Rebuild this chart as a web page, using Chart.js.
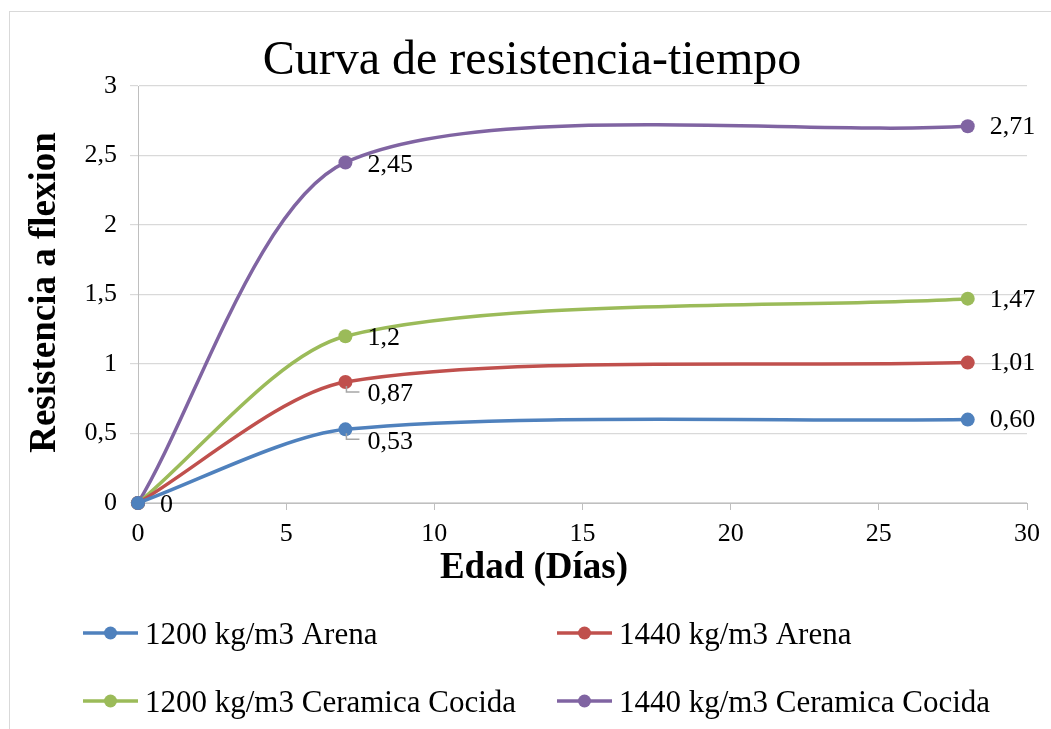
<!DOCTYPE html>
<html>
<head>
<meta charset="utf-8">
<script src="https://cdn.jsdelivr.net/npm/chart.js@4/dist/chart.umd.min.js"></script>
<style>
  html, body { margin: 0; padding: 0; background: #fff; overflow: hidden; }
  #wrap { position: relative; width: 1051px; height: 729px; }
  #frame { position: absolute; left: 9px; top: 11px; width: 1100px; height: 800px; border: 1px solid #d9d9d9; box-sizing: border-box; }
  canvas { position: absolute; left: 0; top: 0; }
</style>
</head>
<body>
<div id="wrap">
  <div id="frame"></div>
  <canvas id="c" width="1051" height="729"></canvas>
</div>
<script>
// ---- data ----
const xDays = [0, 7, 28];
const arena1200 = [0, 0.53, 0.60];
const arena1440 = [0, 0.87, 1.01];
const ceramica1200 = [0, 1.2, 1.47];
const ceramica1440 = [0, 2.45, 2.71];
const seriesNames = ["1200 kg/m3 Arena", "1440 kg/m3 Arena", "1200 kg/m3 Ceramica Cocida", "1440 kg/m3 Ceramica Cocida"];
const chartTitle = "Curva de resistencia-tiempo";
const xTitle = "Edad (Días)";
const yTitle = "Resistencia a flexion";

const SERIF = "'Liberation Serif', 'Times New Roman', serif";
const colors = ["#4F81BD", "#C0504D", "#9BBB59", "#8064A2"];
const seriesValues = [arena1200, arena1440, ceramica1200, ceramica1440];
const minDecimals = [2, 0, 0, 0];
const labelOffsets = [
  [{dx: 22, dy: 2}, {dx: 22, dy: 13, leader: true}, {dx: 22, dy: 1}],
  [{dx: 22, dy: 2}, {dx: 22, dy: 12, leader: true}, {dx: 22, dy: 1}],
  [{dx: 22, dy: 2}, {dx: 22, dy: 2}, {dx: 22, dy: 2}],
  [{dx: 22, dy: 2}, {dx: 22, dy: 3}, {dx: 22, dy: 1}]
];

function fmt(v, minDec) {
  if (v === 0) return "0";
  let s = v.toFixed(2);
  if (minDec < 2) s = s.replace(/0+$/, '').replace(/\.$/, '');
  return s.replace('.', ',');
}

const datasets = seriesValues.map((vals, i) => ({
  label: seriesNames[i],
  data: xDays.map((x, j) => ({x: x, y: vals[j]})),
  borderColor: colors[i],
  backgroundColor: colors[i],
  pointBackgroundColor: colors[i],
  pointBorderColor: colors[i],
  pointRadius: 7,
  pointBorderWidth: 0,
  borderWidth: 3.5,
  tension: 0.27,
  clip: false,
  fill: false
}));

const decorPlugin = {
  id: 'decor',
  afterDatasetsDraw(chart) {
    const ctx = chart.ctx;
    ctx.save();
    ctx.font = "26px " + SERIF;
    ctx.fillStyle = "#000";
    ctx.textAlign = "left";
    ctx.textBaseline = "middle";
    const n = chart.data.datasets.length;
    chart.data.datasets.forEach((ds, i) => {
      const meta = chart.getDatasetMeta(i);
      meta.data.forEach((pt, j) => {
        let covered = false;
        for (let k = i + 1; k < n; k++) {
          if (seriesValues[k][j] === seriesValues[i][j]) covered = true;
        }
        if (covered) return;
        const off = labelOffsets[i][j];
        if (off.leader) {
          ctx.strokeStyle = "#a6a6a6";
          ctx.lineWidth = 1.5;
          ctx.beginPath();
          ctx.moveTo(pt.x + 1, pt.y + 4);
          ctx.lineTo(pt.x + 1, pt.y + 10);
          ctx.lineTo(pt.x + 14, pt.y + 10);
          ctx.stroke();
        }
        ctx.fillText(fmt(seriesValues[i][j], minDecimals[i]), pt.x + off.dx, pt.y + off.dy);
      });
    });
    ctx.restore();
  },
  afterDraw(chart) {
    const ctx = chart.ctx;
    const area = chart.chartArea;
    ctx.save();
    ctx.fillStyle = "#000";
    ctx.font = "48px " + SERIF;
    ctx.textAlign = "center";
    ctx.textBaseline = "alphabetic";
    ctx.fillText(chartTitle, 532, 74);
    ctx.font = "bold 37px " + SERIF;
    ctx.fillText(xTitle, 534, 578);
    ctx.save();
    ctx.translate(55, (area.top + area.bottom) / 2 - 2);
    ctx.rotate(-Math.PI / 2);
    ctx.fillText(yTitle, 0, 0);
    ctx.restore();
    ctx.font = "31px " + SERIF;
    ctx.textAlign = "left";
    const cols = [83, 557];
    const rows = [644, 712];
    chart.data.datasets.forEach((ds, i) => {
      const x = cols[i % 2];
      const base = rows[Math.floor(i / 2)];
      const cy = base - 11;
      ctx.strokeStyle = ds.borderColor;
      ctx.lineWidth = 3.5;
      ctx.beginPath();
      ctx.moveTo(x, cy);
      ctx.lineTo(x + 55, cy);
      ctx.stroke();
      ctx.fillStyle = ds.borderColor;
      ctx.beginPath();
      ctx.arc(x + 27.5, cy, 6.5, 0, Math.PI * 2);
      ctx.fill();
      ctx.fillStyle = "#000";
      ctx.fillText(ds.label, x + 62, base);
    });
    ctx.restore();
  }
};

new Chart(document.getElementById('c'), {
  type: 'line',
  data: { datasets: datasets },
  plugins: [decorPlugin],
  options: {
    responsive: false,
    animation: false,
    events: [],
    layout: { padding: { left: 0, right: 24, top: 86, bottom: 139 } },
    plugins: { legend: { display: false }, title: { display: false }, tooltip: { enabled: false } },
    scales: {
      x: {
        type: 'linear',
        min: 0, max: 30,
        afterFit(scale) { scale.height = 87; },
        border: { display: true, color: '#bfbfbf', width: 1 },
        grid: { drawOnChartArea: false, drawTicks: true, tickLength: 7, color: '#bfbfbf' },
        ticks: { stepSize: 5, color: '#000', padding: 9, font: { family: SERIF, size: 26 } }
      },
      y: {
        min: 0, max: 3,
        afterFit(scale) { scale.width = 138; },
        border: { display: true, color: '#bfbfbf', width: 1 },
        grid: { color: '#d9d9d9', tickLength: 8, lineWidth: 1.2 },
        ticks: {
          stepSize: 0.5, color: '#000', padding: 13,
          font: { family: SERIF, size: 26 },
          callback: (v) => String(v).replace('.', ',')
        }
      }
    }
  }
});
</script>
</body>
</html>
